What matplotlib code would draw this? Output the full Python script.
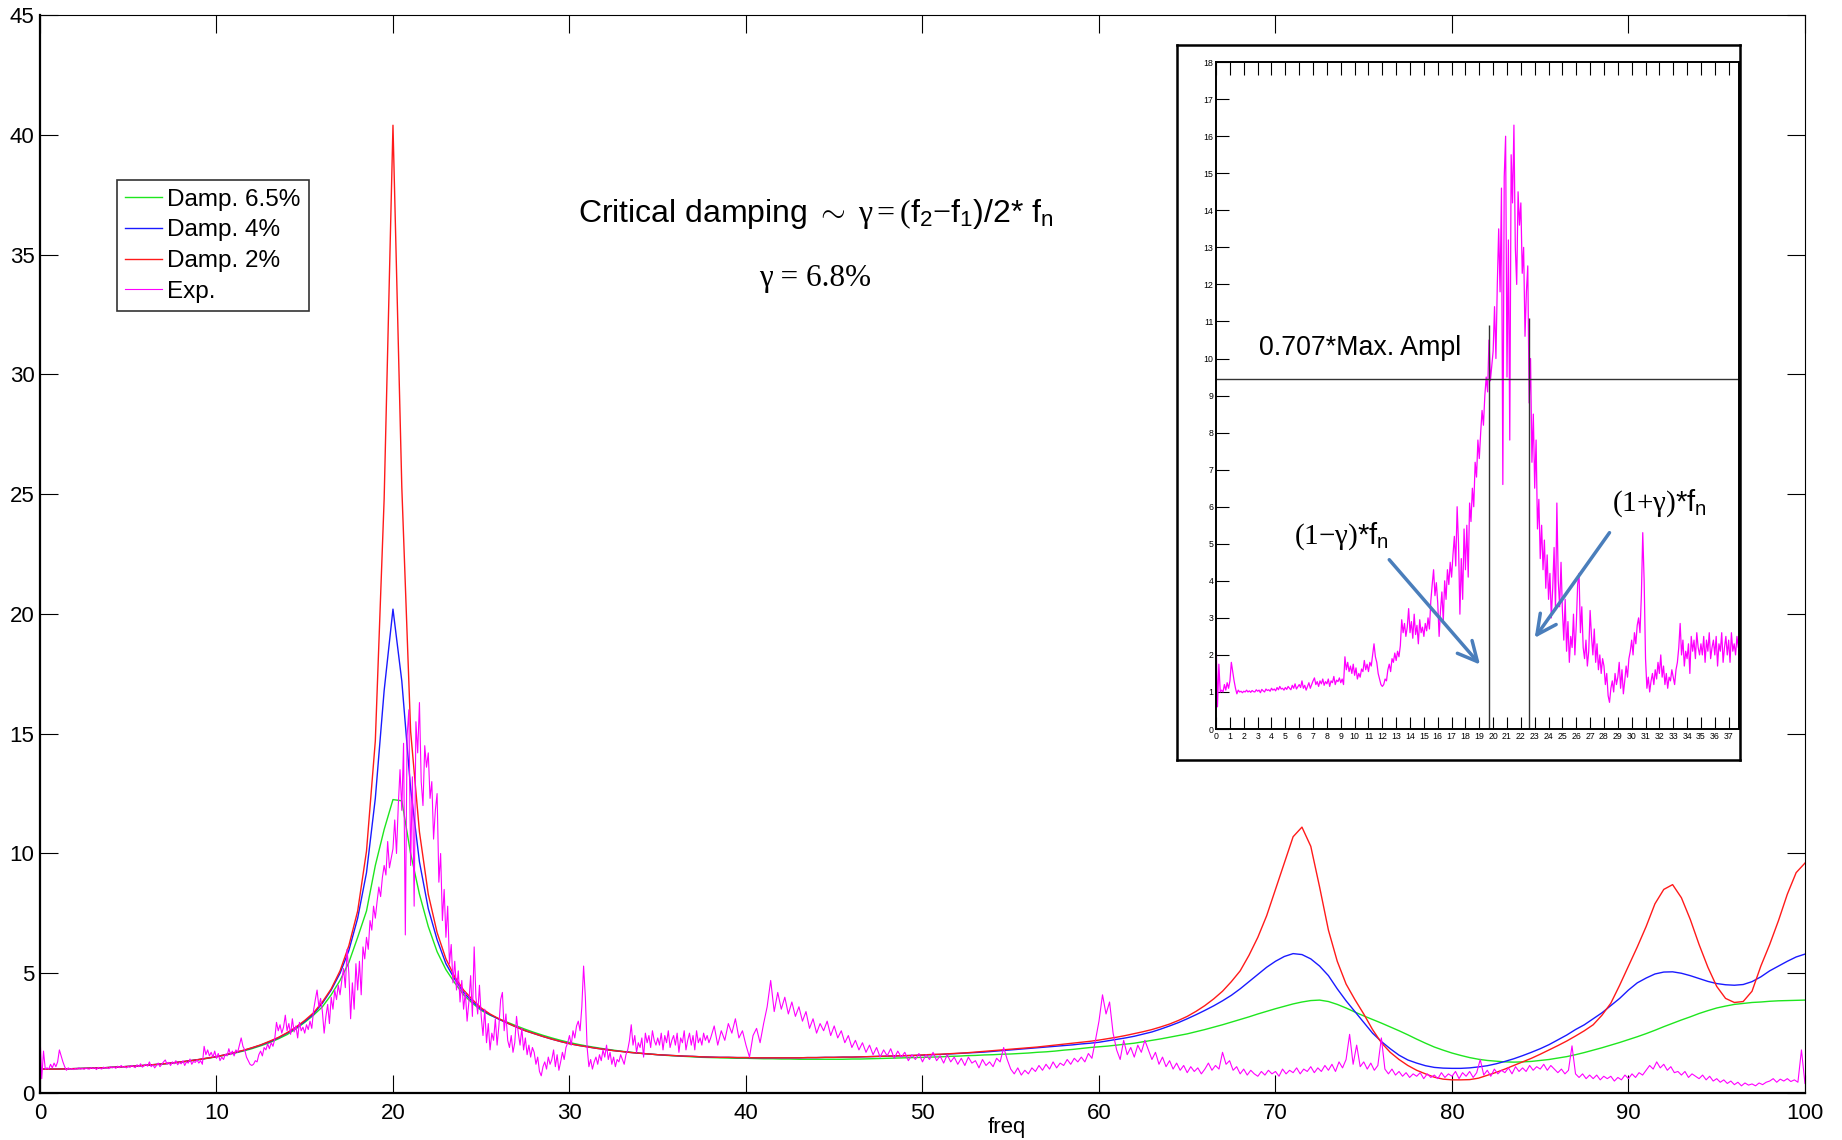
import numpy as np
import matplotlib
matplotlib.use('Agg')
import matplotlib.pyplot as plt

plt.rcParams['font.family'] = ['Liberation Sans', 'DejaVu Sans']
plt.rcParams['mathtext.fontset'] = 'custom'
plt.rcParams['mathtext.rm'] = 'Liberation Serif'
plt.rcParams['mathtext.it'] = 'Liberation Serif:italic'
plt.rcParams['mathtext.sf'] = 'Liberation Sans'

# ---------------- data ----------------
MODEL_STEP = 0.5          # Hz between model samples (0 .. 100)
labels = ['Damp. 6.5%', 'Damp. 4%', 'Damp. 2%', 'Exp.']

damp_2 = [
    1.0, 1.0, 1.0, 1.01, 1.02, 1.03, 1.04, 1.05, 1.07, 1.09, 1.11, 1.13, 1.16, 1.19, 1.22, 1.26,
    1.3, 1.35, 1.4, 1.46, 1.52, 1.6, 1.69, 1.78, 1.89, 2.01, 2.16, 2.32, 2.52, 2.75, 3.03,
    3.35, 3.8, 4.35, 5.1, 6.15, 7.6, 10.1, 14.7, 24.8, 40.4,
    25.3, 15.1, 10.9, 8.3, 6.7, 5.6, 4.85, 4.3, 3.9, 3.55,
    3.3, 3.1, 2.92, 2.75, 2.6, 2.48, 2.36, 2.25, 2.15, 2.06,
    1.99, 1.93, 1.87, 1.82, 1.77, 1.73, 1.69, 1.66, 1.63, 1.6,
    1.58, 1.56, 1.54, 1.53, 1.51, 1.5, 1.49, 1.49, 1.48, 1.48,
    1.47, 1.47, 1.47, 1.47, 1.47, 1.47, 1.48, 1.48, 1.49, 1.49,
    1.5, 1.5, 1.51, 1.52, 1.53, 1.54, 1.55, 1.56, 1.57, 1.59,
    1.61, 1.62, 1.64, 1.66, 1.68, 1.71, 1.74, 1.77, 1.8, 1.83,
    1.86, 1.89, 1.92, 1.96, 2.0, 2.04, 2.08, 2.12, 2.16, 2.21,
    2.27, 2.33, 2.4, 2.48, 2.56, 2.65, 2.76, 2.88, 3.03, 3.2,
    3.41, 3.65, 3.93, 4.25, 4.65, 5.1, 5.75, 6.5, 7.4, 8.5,
    9.6, 10.7, 11.1, 10.3, 8.6, 6.8, 5.5, 4.55, 3.9, 3.3,
    2.65, 2.1, 1.7, 1.4, 1.15, 0.95, 0.8, 0.66, 0.58, 0.55,
    0.55, 0.56, 0.62, 0.74, 0.86, 1.0, 1.15, 1.3, 1.45, 1.62,
    1.8, 1.98, 2.17, 2.38, 2.6, 2.85, 3.25, 3.75, 4.5, 5.3,
    6.1, 6.95, 7.9, 8.5, 8.7, 8.15, 7.25, 6.2, 5.25, 4.45,
    3.95, 3.78, 3.82, 4.25, 5.3, 6.2, 7.2, 8.3, 9.2, 9.6,
]

damp_4 = [
    1.0, 1.0, 1.0, 1.01, 1.02, 1.03, 1.04, 1.05, 1.07, 1.09, 1.11, 1.13, 1.16, 1.19, 1.22, 1.26,
    1.3, 1.35, 1.4, 1.46, 1.52, 1.6, 1.68, 1.77, 1.88, 2.0, 2.14, 2.3, 2.5, 2.72, 2.99,
    3.3, 3.75, 4.3, 5.0, 5.95, 7.3, 9.2, 12.3, 16.8, 20.2,
    17.2, 12.7, 9.65, 7.7, 6.4, 5.4, 4.75, 4.2, 3.82, 3.5,
    3.27, 3.08, 2.91, 2.75, 2.6, 2.48, 2.36, 2.25, 2.15, 2.06,
    1.99, 1.93, 1.87, 1.82, 1.77, 1.73, 1.69, 1.66, 1.63, 1.6,
    1.58, 1.56, 1.54, 1.53, 1.51, 1.5, 1.49, 1.49, 1.48, 1.48,
    1.47, 1.47, 1.47, 1.47, 1.47, 1.47, 1.48, 1.48, 1.49, 1.49,
    1.5, 1.5, 1.51, 1.52, 1.53, 1.54, 1.55, 1.56, 1.57, 1.58,
    1.6, 1.61, 1.63, 1.65, 1.67, 1.69, 1.71, 1.74, 1.77, 1.8,
    1.83, 1.86, 1.89, 1.92, 1.95, 1.98, 2.01, 2.05, 2.08, 2.12,
    2.18, 2.24, 2.3, 2.37, 2.46, 2.55, 2.67, 2.8, 2.94, 3.1,
    3.27, 3.45, 3.64, 3.85, 4.08, 4.35, 4.65, 4.95, 5.25, 5.5,
    5.7, 5.82, 5.78, 5.6, 5.3, 4.9, 4.35, 3.85, 3.4, 2.95,
    2.5, 2.15, 1.85, 1.58, 1.38, 1.25, 1.14, 1.07, 1.04, 1.03,
    1.03, 1.05, 1.09, 1.14, 1.22, 1.32, 1.43, 1.56, 1.7, 1.85,
    2.02, 2.22, 2.42, 2.65, 2.85, 3.1, 3.35, 3.65, 3.95, 4.3,
    4.6, 4.8, 4.97, 5.05, 5.06, 5.0, 4.9, 4.78, 4.66, 4.57,
    4.52, 4.5, 4.53, 4.65, 4.85, 5.1, 5.3, 5.5, 5.68, 5.8,
]

damp_65 = [
    1.0, 1.0, 1.0, 1.01, 1.02, 1.03, 1.04, 1.05, 1.07, 1.09, 1.11, 1.13, 1.16, 1.18, 1.21, 1.25,
    1.29, 1.34, 1.39, 1.45, 1.51, 1.58, 1.66, 1.75, 1.85, 1.97, 2.1, 2.26, 2.44, 2.68, 2.95,
    3.25, 3.6, 4.1, 4.7, 5.45, 6.5, 7.6, 9.5, 11.0, 12.25,
    12.2, 10.0, 8.3, 6.95, 5.9, 5.15, 4.6, 4.1, 3.75, 3.45,
    3.25, 3.1, 2.95, 2.8, 2.66, 2.53, 2.41, 2.3, 2.2, 2.11,
    2.03, 1.96, 1.9, 1.84, 1.79, 1.74, 1.7, 1.66, 1.63, 1.6,
    1.57, 1.55, 1.53, 1.51, 1.49, 1.48, 1.47, 1.46, 1.45, 1.45,
    1.44, 1.43, 1.43, 1.42, 1.42, 1.41, 1.41, 1.41, 1.41, 1.41,
    1.41, 1.42, 1.42, 1.43, 1.44, 1.45, 1.46, 1.47, 1.48, 1.49,
    1.5, 1.51, 1.53, 1.54, 1.56, 1.57, 1.59, 1.6, 1.62, 1.63,
    1.65, 1.67, 1.7, 1.72, 1.75, 1.79, 1.82, 1.86, 1.9, 1.93,
    1.96, 2.0, 2.04, 2.08, 2.14, 2.2, 2.26, 2.33, 2.4, 2.47,
    2.56, 2.65, 2.75, 2.85, 2.96, 3.07, 3.18, 3.3, 3.41, 3.52,
    3.62, 3.72, 3.8, 3.86, 3.88, 3.82, 3.7, 3.55, 3.38, 3.22,
    3.07, 2.92, 2.76, 2.6, 2.43, 2.25, 2.08, 1.92, 1.79, 1.67,
    1.57, 1.48, 1.41, 1.36, 1.33, 1.3, 1.29, 1.3, 1.32, 1.36,
    1.4, 1.46, 1.52, 1.6, 1.69, 1.79, 1.89, 2.0, 2.11, 2.23,
    2.35, 2.48, 2.62, 2.77, 2.91, 3.05, 3.18, 3.32, 3.44, 3.55,
    3.63, 3.7, 3.74, 3.78, 3.8, 3.83, 3.85, 3.86, 3.87, 3.88,
]

# measured spectrum: 0.0 .. 37.9 Hz every 0.1 Hz
EXP_LO_STEP = 0.1
exp_lo = [
    2.45, 0.6, 1.75, 1.0, 1.05, 1.0, 1.2, 1.05, 1.25, 1.1,
    1.3, 1.8, 1.55, 1.3, 1.1, 0.95, 1.05, 1.0, 1.02, 0.98,
    1.02, 1.0, 1.05, 1.0, 1.03, 0.99, 1.04, 1.01, 1.0, 1.06,
    1.02, 1.05, 0.98, 1.07, 1.03, 1.0, 1.08, 1.04, 1.06, 1.02,
    1.1, 1.05, 1.08, 1.03, 1.12, 1.06, 1.15, 1.08, 1.1, 1.05,
    1.12, 1.07, 1.15, 1.1, 1.06, 1.18, 1.1, 1.22, 1.08, 1.14,
    1.2, 1.12, 1.3, 1.1, 1.18, 1.05, 1.15, 1.25, 1.1, 1.2,
    1.3, 1.38, 1.2, 1.28, 1.15, 1.3, 1.22, 1.35, 1.18, 1.28,
    1.22, 1.35, 1.15, 1.3, 1.25, 1.42, 1.2, 1.32, 1.28, 1.38,
    1.25, 1.35, 1.2, 1.95, 1.6, 1.8, 1.55, 1.7, 1.5, 1.75,
    1.45, 1.65, 1.35, 1.5, 1.4, 1.62, 1.55, 1.85, 1.6, 1.75,
    1.55, 1.8, 1.7, 2.0, 2.3, 1.95, 1.8, 1.5, 1.35, 1.2,
    1.15, 1.2, 1.35, 1.3, 1.6, 1.75, 1.55, 1.9, 1.8, 2.05,
    1.85, 2.1, 1.95, 2.25, 2.95, 2.6, 2.85, 2.5, 2.75, 3.25,
    2.6, 2.9, 2.45, 3.1, 2.55, 2.8, 2.3, 2.95, 2.6, 2.75,
    2.5, 2.85, 2.65, 3.0, 2.7, 3.45, 3.9, 4.3, 3.6, 3.95,
    3.4, 2.5, 3.2, 3.7, 2.9, 4.0, 3.5, 4.3, 3.9, 4.5,
    4.1, 4.7, 5.2, 4.4, 6.0, 5.0, 3.1, 4.6, 3.5, 5.4,
    4.3, 5.5, 4.1, 6.1, 5.6, 6.5, 6.0, 7.2, 6.8, 7.8,
    7.3, 8.0, 8.6, 8.2, 9.0, 9.5, 9.1, 10.5, 9.4, 9.8,
    10.2, 11.4, 10.0, 12.0, 13.5, 11.8, 14.6, 6.6, 14.9, 16.0,
    9.5, 13.2, 7.8, 15.5, 14.2, 16.3, 13.0, 12.0, 14.5, 13.6,
    14.2, 12.3, 13.0, 10.6, 11.8, 12.5, 8.8, 10.0, 7.2, 8.5,
    6.5, 7.8, 5.4, 6.2, 4.6, 5.5, 4.3, 5.1, 3.8, 4.7,
    3.5, 4.2, 3.0, 3.8, 4.9, 3.2, 6.1, 4.0, 3.3, 4.5,
    3.2, 2.4, 3.5, 2.1, 2.9, 1.8, 2.5, 2.2, 3.1, 2.0,
    2.8, 3.9, 4.2, 2.6, 3.3, 2.2, 1.9, 2.4, 1.7, 2.1,
    3.2, 2.5, 2.0, 2.7, 1.8, 2.3, 1.6, 2.0, 1.5, 1.9,
    1.7, 1.2, 1.5, 0.9, 0.72, 1.1, 1.3, 1.0, 1.5, 1.2,
    1.4, 1.8, 1.1, 1.6, 0.95, 1.3, 1.7, 1.4, 1.9, 2.1,
    2.4, 2.0, 2.6, 2.3, 2.8, 3.0, 2.6, 3.6, 5.3, 4.0,
    1.9, 1.1, 1.4, 1.0, 1.3, 1.5, 1.2, 1.6, 1.35, 1.8,
    1.5, 2.0, 1.4, 1.7, 1.2, 1.5, 1.1, 1.4, 1.3, 1.6,
    1.4, 1.2, 1.6, 1.8, 2.2, 2.85, 2.0, 2.4, 1.7, 2.1,
    1.9, 2.3, 1.5, 2.5, 2.1, 2.4, 1.9, 2.6, 2.2, 2.0,
    2.3, 2.0, 2.5, 1.8, 2.4, 2.1, 2.6, 1.9, 2.2, 2.4,
    2.0, 2.5, 1.7, 2.3, 2.1, 2.6, 1.8, 2.2, 2.5, 2.0,
    2.4, 1.8, 2.6, 2.1, 2.3, 2.0, 2.5, 2.2, 2.4, 2.1,
]

# measured spectrum: 38.0 .. 100.0 Hz every 0.2 Hz
EXP_HI_START = 38.0
EXP_HI_STEP = 0.2
exp_hi = [
    2.3, 2.8, 2.0, 2.6, 2.2,   2.9, 2.5, 3.1, 2.3, 2.6,   2.0, 1.5, 2.4, 2.7, 2.1,
    2.9, 3.6, 4.7, 3.4, 4.2,   3.5, 4.0, 3.3, 3.8, 3.2,   3.6, 3.0, 3.4, 2.7, 3.1,
    2.5, 2.9, 2.6, 3.0, 2.4,   2.8, 2.3, 2.6, 2.1, 2.4,   1.9, 2.2, 1.8, 2.1, 1.7,
    2.0, 1.6, 1.9, 1.5, 1.8,   1.55, 1.85, 1.45, 1.75, 1.5,   1.7, 1.35, 1.6, 1.4, 1.65,
    1.3, 1.6, 1.4, 1.7, 1.35,   1.55, 1.25, 1.6, 1.3, 1.5,   1.2, 1.45, 1.15, 1.5, 1.25,
    1.35, 1.05, 1.4, 1.15, 1.3,   1.1, 1.45, 1.3, 1.9, 1.4,   1.0, 0.8, 1.05, 0.75, 0.95,
    0.8, 1.05, 0.9, 1.15, 0.95,   1.2, 1.0, 1.3, 1.05, 1.25,   1.15, 1.4, 1.2, 1.45, 1.3,
    1.5, 1.3, 1.65, 1.45, 2.2,   3.0, 4.1, 3.3, 3.8, 2.5,   1.8, 1.4, 2.2, 1.6, 1.9,
    1.5, 2.0, 1.7, 2.2, 1.8,   1.4, 1.7, 1.2, 1.5, 1.1,   1.35, 1.0, 1.25, 0.95, 1.15,
    0.85, 1.1, 0.9, 1.05, 0.8,   1.0, 1.25, 0.95, 1.15, 1.0,   1.7, 1.2, 1.35, 0.95, 1.1,
    0.8, 1.0, 0.75, 0.95, 0.8,   0.7, 0.9, 0.75, 0.95, 0.8,   0.9, 0.7, 1.0, 0.8, 0.95,
    0.85, 1.05, 0.8, 1.0, 0.9,   1.1, 0.85, 1.05, 0.9, 1.15,   0.95, 1.2, 0.9, 1.3, 1.05,
    1.4, 2.45, 1.2, 2.0, 1.1,   1.3, 1.0, 1.25, 0.95, 1.15,   2.3, 1.0, 0.8, 1.0, 0.75,
    0.9, 0.7, 0.85, 0.65, 0.8,   0.7, 0.85, 0.6, 0.8, 0.65,   0.75, 0.6, 0.85, 0.65, 0.8,
    0.7, 0.9, 0.6, 0.85, 0.7,   0.9, 0.65, 0.85, 1.4, 0.75,   0.95, 0.7, 1.0, 0.8, 0.95,
    0.85, 1.05, 0.8, 1.1, 0.9,   1.05, 0.9, 1.15, 0.95, 1.1,   1.0, 1.2, 0.95, 1.15, 1.0,
    0.85, 1.0, 0.8, 0.95, 1.97,   0.8, 0.65, 0.8, 0.6, 0.75,   0.6, 0.75, 0.55, 0.7, 0.6,
    0.7, 0.5, 0.65, 0.55, 0.75,   0.6, 0.8, 0.65, 0.85, 0.75,   0.95, 1.15, 1.0, 1.3, 1.05,
    1.2, 0.95, 1.1, 0.85, 0.9,   0.75, 0.9, 0.65, 0.8, 0.7,   0.6, 0.75, 0.55, 0.7, 0.5,
    0.6, 0.45, 0.55, 0.4, 0.5,   0.35, 0.45, 0.3, 0.42, 0.33,   0.38, 0.3, 0.42, 0.35, 0.45,
    0.5, 0.6, 0.45, 0.58, 0.5,   0.6, 0.48, 0.55, 0.45, 1.8,   0.4,
]

# inset annotations (half-power method)
half_power_level = 9.45
f1_line, f1_top = 19.7, 10.9
f2_line, f2_top = 22.6, 11.1
inset_xmax = 37.75

# ---------------- derived ----------------
freq_exp = np.concatenate([np.arange(len(exp_lo)) * EXP_LO_STEP,
                           EXP_HI_START + np.arange(len(exp_hi)) * EXP_HI_STEP])
exp_vals = np.concatenate([exp_lo, exp_hi])

c_green, c_blue, c_red, c_mag = '#1ee61e', '#1a1aff', '#ff1a1a', '#ff00ff'

fig = plt.figure(figsize=(18.42, 11.4), dpi=100)
ax = fig.add_axes([0.0217, 0.0412, 0.9582, 0.9456])

ax.plot(np.arange(len(damp_65)) * MODEL_STEP, damp_65, color=c_green, lw=1.0, label=labels[0])
ax.plot(np.arange(len(damp_4)) * MODEL_STEP, damp_4, color=c_blue, lw=1.0, label=labels[1])
ax.plot(np.arange(len(damp_2)) * MODEL_STEP, damp_2, color=c_red, lw=1.0, label=labels[2])
ax.plot(freq_exp, exp_vals, color=c_mag, lw=0.8, label=labels[3])

ax.set_xlim(0, 100)
ax.set_ylim(0, 45)
ax.set_xticks(np.arange(0, 101, 10))
ax.set_yticks(np.arange(0, 46, 5))
ax.tick_params(direction='in', length=13, width=0.8, top=True, right=True,
               labelsize=16, colors='black')
ax.tick_params(axis='y', pad=4)
ax.tick_params(axis='x', pad=7)
for s in ['left', 'bottom']:
    ax.spines[s].set_linewidth(1.6)
for s in ['top', 'right']:
    ax.spines[s].set_linewidth(0.8)

leg = ax.legend(loc='upper left', bbox_to_anchor=(0.0436, 0.847), borderaxespad=0,
                fontsize=17.5, frameon=True, fancybox=False, handlelength=1.5,
                handletextpad=0.2, labelspacing=0.36, borderpad=0.35)
leg.get_frame().set_edgecolor('black')
leg.get_frame().set_linewidth(1.2)

ax.text(43.97, 36.7,
        r'Critical damping $\mathrm{\sim\ \gamma = (}\mathsf{f}_\mathsf{2}\mathrm{-}\mathsf{f}_\mathsf{1}$)/2* $\mathsf{f}_\mathsf{n}$',
        ha='center', va='center', fontsize=23)
ax.text(43.9, 34.0, 'γ = 6.8%', ha='center', va='center', fontsize=22.5,
        family=['Liberation Serif', 'DejaVu Serif'])

fig.text(1007 / 1842, 1 - 1127 / 1140, 'freq', ha='center', va='center', fontsize=16)

# ---------------- inset ----------------
ax_bg = fig.add_axes([0.639, 0.3333, 0.3056, 0.6272])
ax_bg.set_xticks([]); ax_bg.set_yticks([])
ax_bg.set_facecolor('white')
for s in ax_bg.spines.values():
    s.set_linewidth(1.8)

axi = fig.add_axes([0.6602, 0.3605, 0.2839, 0.585])
axi.plot(freq_exp, exp_vals, color=c_mag, lw=0.9)
axi.axhline(half_power_level, color='#333333', lw=1.0)
axi.vlines([f1_line, f2_line], 0, [f1_top, f2_top], color='#333333', lw=1.0)
axi.set_xlim(0, inset_xmax)
axi.set_ylim(0, 18)
axi.set_xticks(np.arange(0, 38, 1))
axi.set_yticks(np.arange(0, 19, 1))
axi.tick_params(direction='in', length=9, width=0.8, top=True, right=False,
                labelsize=6.3, pad=2)
for s in axi.spines.values():
    s.set_linewidth(1.4)

axi.text(3.1, 10.1, '0.707*Max. Ampl', fontsize=19.3, ha='left', va='baseline')
axi.text(5.6, 5.0, r'$\mathrm{(1{-}\gamma)}$*f$_\mathsf{n}$', fontsize=21, ha='left', va='baseline')
axi.text(28.6, 5.9, r'$\mathrm{(1{+}\gamma)}$*f$_\mathsf{n}$', fontsize=21, ha='left', va='baseline')

arrow_col = '#4a7ebb'
axi.annotate('', xy=(19.05, 1.74), xytext=(12.5, 4.57),
             arrowprops=dict(arrowstyle='->,head_length=0.7,head_width=0.35',
                             color=arrow_col, lw=2.5, mutation_scale=20,
                             shrinkA=0, shrinkB=0))
axi.annotate('', xy=(23.0, 2.46), xytext=(28.4, 5.3),
             arrowprops=dict(arrowstyle='->,head_length=0.7,head_width=0.35',
                             color=arrow_col, lw=2.5, mutation_scale=20,
                             shrinkA=0, shrinkB=0))

fig.savefig('out.png', dpi=100)
